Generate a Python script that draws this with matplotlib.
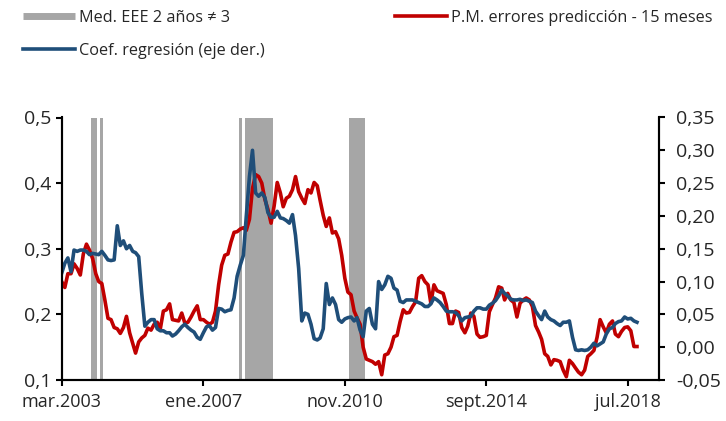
import matplotlib
matplotlib.use('Agg')
import matplotlib.pyplot as plt
import pandas as pd
from matplotlib.lines import Line2D
from matplotlib.ticker import FuncFormatter

plt.rcParams['font.family'] = ['Open Sans', 'DejaVu Sans']

# P.M. errores predicción - 15 meses (eje izq.), mensual desde mar.2003
errores = [
    0.250, 0.241, 0.262, 0.262, 0.277, 0.270, 0.260, 0.292, 0.307, 0.298,
    0.285, 0.262, 0.250, 0.247, 0.222, 0.194, 0.192, 0.180, 0.178, 0.171,
    0.180, 0.197, 0.172, 0.156, 0.141, 0.158, 0.164, 0.168, 0.179, 0.176,
    0.185, 0.188, 0.178, 0.205, 0.207, 0.216, 0.192, 0.191, 0.190, 0.202,
    0.187, 0.188, 0.196, 0.205, 0.213, 0.192, 0.192, 0.188, 0.185, 0.188,
    0.205, 0.245, 0.275, 0.290, 0.292, 0.310, 0.325, 0.326, 0.330, 0.332,
    0.328, 0.345, 0.392, 0.413, 0.410, 0.400, 0.375, 0.360, 0.339, 0.365,
    0.401, 0.385, 0.364, 0.377, 0.380, 0.390, 0.410, 0.387, 0.377, 0.369,
    0.390, 0.385, 0.401, 0.396, 0.374, 0.351, 0.334, 0.347, 0.324, 0.326,
    0.315, 0.290, 0.255, 0.234, 0.230, 0.205, 0.195, 0.185, 0.150, 0.132,
    0.130, 0.128, 0.124, 0.128, 0.108, 0.138, 0.140, 0.150, 0.166, 0.168,
    0.189, 0.207, 0.202, 0.203, 0.212, 0.219, 0.255, 0.259, 0.250, 0.245,
    0.217, 0.245, 0.236, 0.234, 0.232, 0.215, 0.186, 0.186, 0.205, 0.203,
    0.180, 0.172, 0.182, 0.202, 0.197, 0.170, 0.165, 0.166, 0.168, 0.204,
    0.215, 0.225, 0.242, 0.240, 0.222, 0.232, 0.222, 0.218, 0.196, 0.217,
    0.222, 0.225, 0.222, 0.212, 0.183, 0.173, 0.162, 0.140, 0.136, 0.123,
    0.131, 0.130, 0.128, 0.115, 0.105, 0.130, 0.125, 0.118, 0.112, 0.108,
    0.115, 0.136, 0.140, 0.145, 0.165, 0.192, 0.181, 0.172, 0.185, 0.190,
    0.170, 0.166, 0.174, 0.180, 0.181, 0.175, 0.151, 0.151,
]

# Coef. regresión (eje der.)
coef = [
    0.113, 0.128, 0.136, 0.115, 0.148, 0.146, 0.148, 0.148, 0.146, 0.141,
    0.143, 0.142, 0.141, 0.146, 0.140, 0.133, 0.132, 0.133, 0.185, 0.155,
    0.162, 0.150, 0.155, 0.146, 0.144, 0.138, 0.082, 0.032, 0.038, 0.042,
    0.042, 0.028, 0.025, 0.025, 0.022, 0.022, 0.017, 0.020, 0.025, 0.031,
    0.035, 0.030, 0.026, 0.023, 0.015, 0.012, 0.022, 0.031, 0.033, 0.026,
    0.030, 0.059, 0.058, 0.054, 0.056, 0.057, 0.075, 0.108, 0.125, 0.140,
    0.200, 0.260, 0.300, 0.235, 0.230, 0.235, 0.228, 0.205, 0.198, 0.198,
    0.207, 0.197, 0.196, 0.193, 0.189, 0.202, 0.170, 0.120, 0.040, 0.052,
    0.050, 0.035, 0.013, 0.011, 0.014, 0.028, 0.097, 0.065, 0.075, 0.065,
    0.042, 0.038, 0.043, 0.045, 0.046, 0.040, 0.045, 0.026, 0.016, 0.055,
    0.059, 0.035, 0.028, 0.100, 0.088, 0.095, 0.108, 0.105, 0.090, 0.087,
    0.070, 0.068, 0.072, 0.072, 0.072, 0.070, 0.068, 0.066, 0.062, 0.062,
    0.066, 0.075, 0.072, 0.068, 0.062, 0.055, 0.054, 0.054, 0.053, 0.048,
    0.040, 0.045, 0.046, 0.047, 0.055, 0.060, 0.060, 0.058, 0.058, 0.064,
    0.067, 0.071, 0.078, 0.087, 0.082, 0.078, 0.073, 0.072, 0.072, 0.073,
    0.071, 0.072, 0.070, 0.068, 0.055, 0.048, 0.042, 0.055, 0.046, 0.042,
    0.040, 0.036, 0.033, 0.038, 0.038, 0.040, 0.015, -0.004, -0.005, -0.004,
    -0.005, -0.004, 0.000, 0.006, 0.002, 0.005, 0.008, 0.020, 0.028, 0.030,
    0.036, 0.039, 0.040, 0.046, 0.043, 0.044, 0.040, 0.038,
]

# meses (desde mar.2003) con Med. EEE 2 años != 3
meses_eee = [10, 11, 13, 58, 60, 61, 62, 63, 64, 65, 66, 67, 68, 94, 95, 96, 97, 98]

tick_fechas = ['2003-03-01', '2007-01-01', '2010-11-01', '2014-09-01', '2018-07-01']
tick_labels = ['mar.2003', 'ene.2007', 'nov.2010', 'sept.2014', 'jul.2018']

rojo = '#C00000'
azul = '#1F4E79'
gris = '#A6A6A6'
texto = '#262626'

fechas = pd.date_range('2003-03-01', periods=len(errores), freq='MS')

fig = plt.figure(figsize=(7.26, 4.21), dpi=100)
ax = fig.add_axes([61.5 / 726, 41 / 421, 597.5 / 726, 262.5 / 421])

y_min, y_max = 0.1, 0.5
ax.bar(fechas[meses_eee], y_max - y_min, bottom=y_min, width=31, color=gris, linewidth=0, zorder=1)
ax.plot(fechas, errores, color=rojo, lw=2.6, zorder=3)
ax.set_ylim(y_min, y_max)
ax.set_yticks([0.1, 0.2, 0.3, 0.4, 0.5])
ax.yaxis.set_major_formatter(FuncFormatter(lambda v, p: f'{v:.1f}'.replace('.', ',')))

ax2 = ax.twinx()
ax2.plot(fechas, coef, color=azul, lw=2.6)
ax2.set_ylim(-0.05, 0.35)
ax2.set_yticks([-0.05, 0, 0.05, 0.1, 0.15, 0.2, 0.25, 0.3, 0.35])
ax2.yaxis.set_major_formatter(FuncFormatter(lambda v, p: f'{v:.2f}'.replace('.', ',')))

ax.set_xlim(pd.Timestamp('2003-02-27'), pd.Timestamp('2019-05-07'))
ax.set_xticks(pd.to_datetime(tick_fechas))
ax.set_xticklabels(tick_labels)

for a in (ax, ax2):
    a.spines['top'].set_visible(False)
    for s in ('left', 'right', 'bottom'):
        a.spines[s].set_linewidth(1.5)
        a.spines[s].set_color('black')

ax.tick_params(axis='y', direction='out', length=4.5, width=1.5, labelsize=14, pad=3, labelcolor=texto)
ax.tick_params(axis='x', direction='out', length=4.5, width=1.5, labelsize=13, pad=5, labelcolor=texto)
ax2.tick_params(axis='y', direction='out', length=4.5, width=1.5, labelsize=14, pad=8, labelcolor=texto)

# leyenda
h_gris = Line2D([], [], color=gris, lw=5, solid_capstyle='butt')
h_azul = Line2D([], [], color=azul, lw=2.6)
h_rojo = Line2D([], [], color=rojo, lw=2.6)
opts = dict(loc='upper left', frameon=False, fontsize=11.7, handlelength=3.2, handletextpad=0.25,
            labelspacing=1.05, borderpad=0, borderaxespad=0, labelcolor=texto)
fig.legend([h_gris, h_azul], ['Med. EEE 2 años ≠ 3', 'Coef. regresión (eje der.)'],
           bbox_to_anchor=(23 / 726, 1 - 10 / 421), **opts)
fig.legend([h_rojo], ['P.M. errores predicción - 15 meses'],
           bbox_to_anchor=(395 / 726, 1 - 10 / 421), **opts)

fig.savefig('out.png', dpi=100)
